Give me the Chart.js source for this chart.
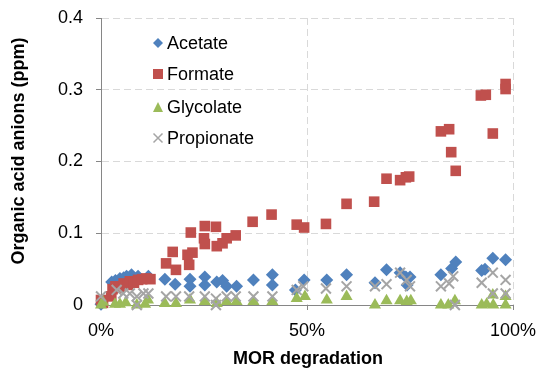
<!DOCTYPE html>
<html>
<head>
  <title>Organic acid anions vs MOR degradation</title>
  <script src="https://cdn.jsdelivr.net/npm/chart.js"></script>
  <style>
    body { margin: 0; background: #fff; }
    #wrap { width: 540px; height: 372px; }
  </style>
</head>
<body>
  <div id="wrap"><canvas id="chart" width="540" height="372"></canvas></div>

  <script>
    // MOR degradation (%) and anion concentration (ppm)
    const acetateX = [0, 2.6, 3.5, 4.6, 5.5, 6.2, 7.4, 9, 11.5, 15.5, 18, 21.6, 21.6, 25.2, 25.2, 28.1, 29.5, 30.5, 32.9, 37, 41.6, 41.6, 47.2, 49.3, 54.8, 59.6, 66.5, 69.3, 72.6, 74, 75, 74.3, 82.5, 85.1, 86.1, 92.4, 93.2, 95.1, 98.2];
    const acetateY = [0.001, 0.032, 0.034, 0.037, 0.038, 0.040, 0.042, 0.040, 0.040, 0.036, 0.029, 0.036, 0.026, 0.039, 0.028, 0.032, 0.034, 0.026, 0.026, 0.035, 0.042, 0.028, 0.021, 0.035, 0.035, 0.042, 0.031, 0.049, 0.045, 0.039, 0.039, 0.028, 0.042, 0.051, 0.060, 0.048, 0.050, 0.065, 0.063];

    const formateX = [0, 0.5, 2.5, 2.8, 3.5, 4.5, 5.5, 6.5, 7, 8, 9, 10, 11, 12, 15.8, 17.4, 18.2, 21.8, 21, 22.2, 21.4, 25.2, 27.9, 25, 25.2, 28.1, 29.5, 30.5, 32.7, 36.8, 41.4, 47.5, 49.3, 54.6, 59.6, 66.3, 69.3, 72.6, 74, 74.8, 82.5, 84.5, 85, 86.1, 92.2, 93.4, 95.1, 98.2, 98.2];
    const formateY = [0.007, 0.003, 0.012, 0.022, 0.026, 0.024, 0.030, 0.028, 0.033, 0.031, 0.035, 0.036, 0.037, 0.036, 0.058, 0.074, 0.049, 0.101, 0.070, 0.073, 0.056, 0.110, 0.109, 0.093, 0.085, 0.082, 0.086, 0.093, 0.097, 0.116, 0.126, 0.112, 0.108, 0.113, 0.141, 0.144, 0.176, 0.174, 0.178, 0.179, 0.242, 0.245, 0.213, 0.187, 0.292, 0.293, 0.239, 0.308, 0.301];

    const glycolateX = [0, 0.5, 3.4, 4.6, 6, 8.7, 10.7, 11.4, 15.5, 18.2, 21.6, 25.2, 28.1, 30.5, 32.9, 37, 41.6, 47.5, 49.5, 54.8, 59.6, 66.5, 69.3, 72.6, 74.2, 75.2, 82.5, 84.3, 85.9, 92.4, 93.6, 95.1, 95.2, 98.2, 98.2];
    const glycolateY = [0, 0.004, 0.001, 0.001, 0.003, 0, 0.001, 0.007, 0.002, 0.002, 0.007, 0.005, 0.002, 0.005, 0.005, 0.005, 0.005, 0.009, 0.012, 0.007, 0.012, 0, 0.006, 0.006, 0.005, 0.006, 0, 0, 0.006, 0, 0.001, 0.014, 0, 0.012, 0];

    const propionateX = [0, 3.8, 5.4, 7, 8.7, 10.3, 11.5, 8.7, 15.8, 18.2, 21.4, 25.2, 27.9, 27.9, 30.5, 32.7, 37, 41.6, 47.5, 49.1, 54.6, 59.6, 66.5, 69.3, 72.6, 74.2, 75, 82.5, 84.5, 85.5, 85.9, 92.4, 95.1, 95.1, 98.2, 98.2];
    const propionateY = [0.012, 0.021, 0.016, 0.016, 0.012, 0.016, 0.016, 0, 0.012, 0.012, 0.012, 0.012, 0.009, 0, 0.012, 0.012, 0.012, 0.012, 0.021, 0.026, 0.023, 0.026, 0.026, 0.029, 0.045, 0.035, 0.026, 0.026, 0.030, 0.040, 0, 0.031, 0.045, 0.016, 0.035, 0.016];

    const seriesNames = ['Acetate', 'Formate', 'Glycolate', 'Propionate'];
    const xTicks = [0, 50, 100];
    const yTicks = [0, 0.1, 0.2, 0.3, 0.4];

    const pairs = (xs, ys) => xs.map((x, i) => ({ x: x, y: ys[i] }));

    const blue = '#4F81BD', red = '#C0504D', green = '#9BBB59', grey = '#A5A5A5';

    // legend inside the plot, Excel style
    const legendBox = {
      id: 'legendBox',
      afterDraw(chart) {
        const ctx = chart.ctx;
        const mx = 158, tx = 167;
        const rows = [43, 74, 107, 138];
        ctx.save();
        // diamond
        ctx.fillStyle = blue;
        ctx.beginPath();
        ctx.moveTo(mx, rows[0] - 5); ctx.lineTo(mx + 5, rows[0]);
        ctx.lineTo(mx, rows[0] + 5); ctx.lineTo(mx - 5, rows[0]);
        ctx.closePath(); ctx.fill();
        // square
        ctx.fillStyle = red;
        ctx.fillRect(mx - 5, rows[1] - 5, 10, 10);
        // triangle
        ctx.fillStyle = green;
        ctx.beginPath();
        ctx.moveTo(mx, rows[2] - 5); ctx.lineTo(mx + 5, rows[2] + 5);
        ctx.lineTo(mx - 5, rows[2] + 5);
        ctx.closePath(); ctx.fill();
        // cross
        ctx.strokeStyle = grey; ctx.lineWidth = 1.5;
        ctx.beginPath();
        ctx.moveTo(mx - 4.5, rows[3] - 4.5); ctx.lineTo(mx + 4.5, rows[3] + 4.5);
        ctx.moveTo(mx + 4.5, rows[3] - 4.5); ctx.lineTo(mx - 4.5, rows[3] + 4.5);
        ctx.stroke();

        ctx.fillStyle = '#000';
        ctx.font = '18px "Liberation Sans", Arial, sans-serif';
        ctx.textBaseline = 'middle';
        ctx.textAlign = 'left';
        seriesNames.forEach((n, i) => ctx.fillText(n, tx, rows[i] + 1));

        // axis titles
        ctx.font = 'bold 18px "Liberation Sans", Arial, sans-serif';
        ctx.textAlign = 'center';
        ctx.textBaseline = 'middle';
        ctx.fillText('MOR degradation', 308, 359);
        ctx.translate(19, 151);
        ctx.rotate(-Math.PI / 2);
        ctx.fillText('Organic acid anions (ppm)', 0, 0);
        ctx.restore();
      }
    };

    const ctx = document.getElementById('chart').getContext('2d');
    Chart.defaults.font.family = '"Liberation Sans", Arial, sans-serif';
    Chart.defaults.font.size = 18;
    Chart.defaults.color = '#000';

    const chart = new Chart(ctx, {
      type: 'scatter',
      data: {
        datasets: [
          { label: 'Acetate', data: pairs(acetateX, acetateY), order: 4, clip: false,
            pointStyle: 'rectRot', radius: 6.5, backgroundColor: blue, borderColor: blue, borderWidth: 0 },
          { label: 'Formate', data: pairs(formateX, formateY), order: 3, clip: false,
            pointStyle: 'rect', radius: 7.5, backgroundColor: red, borderColor: red, borderWidth: 0 },
          { label: 'Glycolate', data: pairs(glycolateX, glycolateY), order: 2, clip: false,
            pointStyle: 'triangle', radius: 7, backgroundColor: green, borderColor: green, borderWidth: 0 },
          { label: 'Propionate', data: pairs(propionateX, propionateY), order: 1, clip: false,
            pointStyle: 'crossRot', radius: 7, backgroundColor: grey, borderColor: grey, borderWidth: 2 }
        ]
      },
      options: {
        responsive: false,
        animation: false,
        layout: { autoPadding: false, padding: { top: 18, right: 27, left: 0, bottom: 0 } },
        plugins: { legend: { display: false }, tooltip: { enabled: false } },
        elements: { point: { hoverRadius: 7 } },
        scales: {
          x: {
            type: 'linear',
            min: 0, max: 100,
            // "100%" plus tick padding would otherwise shrink the plot on the right
            afterFit: (s) => { s.height = 67; s.paddingRight = 27; },
            afterBuildTicks: (s) => { s.ticks = xTicks.map(v => ({ value: v })); },
            ticks: { padding: 10, callback: (v) => v + '%' },
            grid: { color: '#D9D9D9', tickColor: '#868686', tickLength: 5 },
            border: { color: '#868686', width: 1, dash: [7, 4] }
          },
          y: {
            min: 0, max: 0.4,
            // the tick padding otherwise pushes the plot top down
            afterFit: (s) => { s.width = 101; s.paddingTop = 0; s.paddingBottom = 0; },
            afterBuildTicks: (s) => { s.ticks = yTicks.map(v => ({ value: v })); },
            ticks: { padding: 13, callback: (v) => String(Math.round(v * 10) / 10) },
            grid: { color: '#D9D9D9', tickColor: '#868686', tickLength: 5 },
            border: { color: '#868686', width: 1, dash: [7, 4] }
          }
        }
      },
      plugins: [legendBox]
    });
  </script>
</body>
</html>
